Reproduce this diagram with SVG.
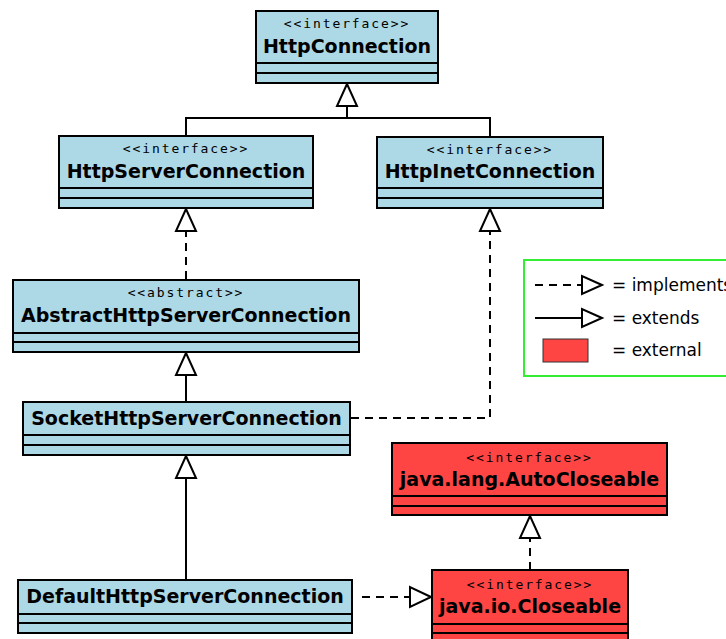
<svg xmlns="http://www.w3.org/2000/svg" width="726" height="639" viewBox="0 0 726 639">
<style>
.box{fill:#add8e6;stroke:#000;stroke-width:2}
.ext{fill:#ff4444;stroke:#000;stroke-width:2}
.div{stroke:#000;stroke-width:2}
.st{font-family:"DejaVu Sans Mono",monospace;font-size:13px;letter-spacing:1.9px;text-anchor:middle;fill:#000}
.nm{font-family:"DejaVu Sans",sans-serif;font-size:19px;font-weight:bold;text-anchor:middle;fill:#000}
.ln{fill:none;stroke:#000;stroke-width:2}
.da{fill:none;stroke:#000;stroke-width:2;stroke-dasharray:8 6}
.tri{fill:#fff;stroke:#000;stroke-width:2}
.lg{font-family:"DejaVu Sans",sans-serif;font-size:17px;fill:#000}
</style>
<rect width="726" height="639" fill="#fff"/>
<g id="connectors">
  <polyline class="ln" points="186,136 186,118 490,118 490,137"/>
  <line class="ln" x1="347" y1="118" x2="347" y2="106"/>
  <polygon class="tri" points="347,84 337,106 357,106"/>
  <line class="da" x1="186" y1="279" x2="186" y2="231"/>
  <polygon class="tri" points="186,209 176,231 196,231"/>
  <polyline class="da" points="351,418 490,418 490,231"/>
  <polygon class="tri" points="490,209 480,231 500,231"/>
  <line class="ln" x1="186" y1="402" x2="186" y2="375"/>
  <polygon class="tri" points="186,353 176,375 196,375"/>
  <line class="ln" x1="186" y1="580" x2="186" y2="478"/>
  <polygon class="tri" points="186,456 176,478 196,478"/>
  <line class="da" x1="362" y1="597" x2="410" y2="597"/>
  <polygon class="tri" points="431,597 410,587 410,607"/>
  <line class="da" x1="530" y1="570" x2="530" y2="538"/>
  <polygon class="tri" points="530,516 520,538 540,538"/>
</g>
<g id="HttpConnection">
  <rect class="box" x="256" y="11" width="182" height="72"/>
  <line class="div" x1="256" y1="63" x2="438" y2="63"/>
  <line class="div" x1="256" y1="73" x2="438" y2="73"/>
  <text class="st" x="347" y="28">&lt;&lt;interface&gt;&gt;</text>
  <text class="nm" x="347" y="53">HttpConnection</text>
</g>
<g id="HttpServerConnection">
  <rect class="box" x="59" y="136" width="254" height="72"/>
  <line class="div" x1="59" y1="188" x2="313" y2="188"/>
  <line class="div" x1="59" y1="198" x2="313" y2="198"/>
  <text class="st" x="186" y="153">&lt;&lt;interface&gt;&gt;</text>
  <text class="nm" x="186" y="178">HttpServerConnection</text>
</g>
<g id="HttpInetConnection">
  <rect class="box" x="377" y="137" width="226" height="71"/>
  <line class="div" x1="377" y1="188" x2="603" y2="188"/>
  <line class="div" x1="377" y1="198" x2="603" y2="198"/>
  <text class="st" x="490" y="154">&lt;&lt;interface&gt;&gt;</text>
  <text class="nm" x="490" y="178">HttpInetConnection</text>
</g>
<g id="AbstractHttpServerConnection">
  <rect class="box" x="13" y="280" width="346" height="72"/>
  <line class="div" x1="13" y1="333" x2="359" y2="333"/>
  <line class="div" x1="13" y1="342" x2="359" y2="342"/>
  <text class="st" x="186" y="297">&lt;&lt;abstract&gt;&gt;</text>
  <text class="nm" x="186" y="322">AbstractHttpServerConnection</text>
</g>
<g id="SocketHttpServerConnection">
  <rect class="box" x="23" y="402" width="327" height="53"/>
  <line class="div" x1="23" y1="435" x2="350" y2="435"/>
  <line class="div" x1="23" y1="445" x2="350" y2="445"/>
  <text class="nm" x="186.5" y="425">SocketHttpServerConnection</text>
</g>
<g id="DefaultHttpServerConnection">
  <rect class="box" x="18" y="580" width="334" height="53"/>
  <line class="div" x1="18" y1="614" x2="352" y2="614"/>
  <line class="div" x1="18" y1="623" x2="352" y2="623"/>
  <text class="nm" x="185" y="603">DefaultHttpServerConnection</text>
</g>
<g id="AutoCloseable">
  <rect class="ext" x="392" y="443" width="275" height="72"/>
  <line class="div" x1="392" y1="496" x2="667" y2="496"/>
  <line class="div" x1="392" y1="506" x2="667" y2="506"/>
  <text class="st" x="529.5" y="462">&lt;&lt;interface&gt;&gt;</text>
  <text class="nm" x="529.5" y="486">java.lang.AutoCloseable</text>
</g>
<g id="Closeable">
  <rect class="ext" x="432" y="570" width="196" height="80"/>
  <line class="div" x1="432" y1="624" x2="628" y2="624"/>
  <line class="div" x1="432" y1="633" x2="628" y2="633"/>
  <text class="st" x="530" y="589">&lt;&lt;interface&gt;&gt;</text>
  <text class="nm" x="530" y="613">java.io.Closeable</text>
</g>
<g id="legend">
  <rect x="524" y="260" width="210" height="116" fill="#fff" stroke="#33ee33" stroke-width="2"/>
  <line class="da" x1="535" y1="285" x2="582" y2="285"/>
  <polygon class="tri" points="602,285 582,276 582,294"/>
  <text class="lg" x="612" y="291">= implements</text>
  <line class="ln" x1="535" y1="318" x2="582" y2="318"/>
  <polygon class="tri" points="602,318 582,309 582,327"/>
  <text class="lg" x="612" y="324">= extends</text>
  <rect x="543" y="339" width="45" height="23" fill="#ff4444" stroke="#333" stroke-width="1"/>
  <text class="lg" x="612" y="356">= external</text>
</g>
</svg>
